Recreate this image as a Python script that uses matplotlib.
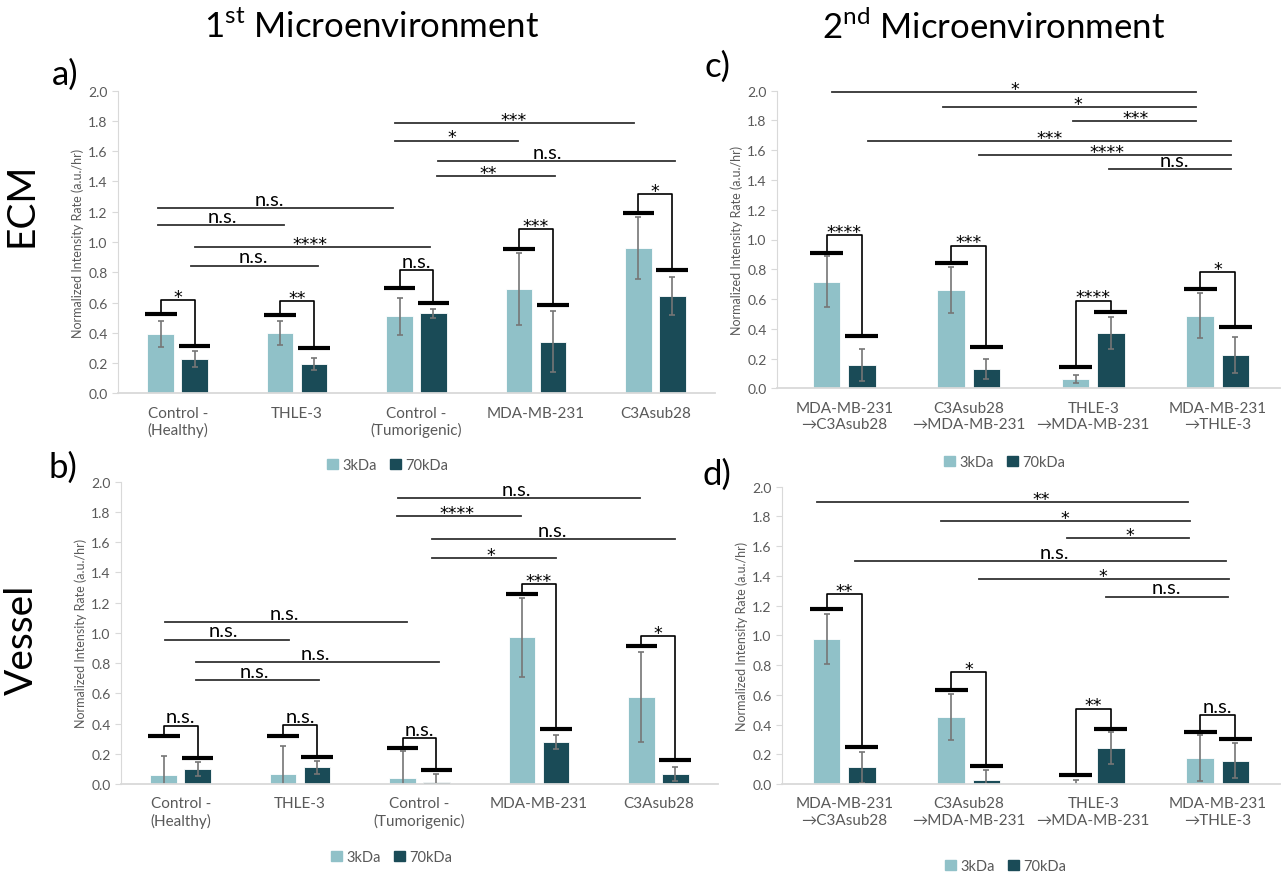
import numpy as np
import matplotlib
matplotlib.use('Agg')
import matplotlib.pyplot as plt
from matplotlib.patches import Patch

plt.rcParams['font.family'] = ['Lato', 'DejaVu Sans']
plt.rcParams['mathtext.fontset'] = 'custom'
plt.rcParams['mathtext.rm'] = 'Lato'

# ---- data ----
cats1 = ['Control -\n(Healthy)', 'THLE-3', 'Control -\n(Tumorigenic)', 'MDA-MB-231', 'C3Asub28']
cats2 = ['MDA-MB-231\n\u2192C3Asub28', 'C3Asub28\n\u2192MDA-MB-231',
         'THLE-3\n\u2192MDA-MB-231', 'MDA-MB-231\n\u2192THLE-3']

# a) ECM, 1st microenvironment
ecm1_3k = [0.39, 0.40, 0.51, 0.69, 0.96]
ecm1_3k_err = [0.086, 0.08, 0.122, 0.24, 0.207]
ecm1_70k = [0.225, 0.194, 0.529, 0.341, 0.645]
ecm1_70k_err = [0.052, 0.04, 0.03, 0.2, 0.125]
ecm1_cap3 = [0.522, 0.518, 0.698, 0.956, 1.19]
ecm1_cap70 = [0.31, 0.302, 0.599, 0.581, 0.817]
ecm1_top = [0.617, 0.612, 0.815, 1.084, 1.319]
ecm1_sig = ['*', '**', 'n.s.', '***', '*']
ecm1_comp = [(-0.165, 1.806, 1.222, 'n.s.', 0.77),
             (-0.165, 0.891, 1.112, 'n.s.', 0.37),
             (0.146, 2.114, 0.965, '****', 1.11),
             (0.114, 1.173, 0.844, 'n.s.', 0.63),
             (1.819, 3.822, 1.784, '***', 2.81),
             (1.819, 2.849, 1.670, '*', 2.30),
             (2.178, 4.165, 1.535, 'n.s.', 3.10),
             (2.169, 3.157, 1.434, '**', 2.60)]

# b) Vessel, 1st microenvironment
ves1_3k = [0.062, 0.066, 0.037, 0.970, 0.573]
ves1_3k_err = [0.125, 0.188, 0.18, 0.263, 0.298]
ves1_70k = [0.101, 0.11, 0.013, 0.278, 0.066]
ves1_70k_err = [0.045, 0.045, 0.05, 0.044, 0.047]
ves1_cap3 = [0.318, 0.32, 0.238, 1.255, 0.913]
ves1_cap70 = [0.172, 0.176, 0.09, 0.366, 0.159]
ves1_top = [0.386, 0.388, 0.302, 1.323, 0.981]
ves1_sig = ['n.s.', 'n.s.', 'n.s.', '***', '*']
ves1_comp = [(-0.132, 1.899, 1.072, 'n.s.', 0.87),
             (-0.132, 0.905, 0.955, 'n.s.', 0.36),
             (0.128, 2.162, 0.807, 'n.s.', 1.13),
             (0.125, 1.161, 0.686, 'n.s.', 0.62),
             (1.816, 3.847, 1.89, 'n.s.', 2.81),
             (1.813, 2.846, 1.771, '****', 2.31),
             (2.101, 4.14, 1.619, 'n.s.', 3.11),
             (2.101, 3.141, 1.497, '*', 2.60)]

# c) ECM, 2nd microenvironment
ecm2_3k = [0.717, 0.663, 0.063, 0.488]
ecm2_3k_err = [0.17, 0.155, 0.025, 0.15]
ecm2_70k = [0.159, 0.132, 0.37, 0.222]
ecm2_70k_err = [0.107, 0.067, 0.107, 0.12]
ecm2_cap3 = [0.912, 0.842, 0.146, 0.665]
ecm2_cap70 = [0.352, 0.278, 0.515, 0.41]
ecm2_top = [1.032, 0.959, 0.589, 0.779]
ecm2_sig = ['****', '***', '****', '*']
ecm2_comp = [(-0.096, 2.823, 1.989, '*', 1.37),
             (0.796, 2.823, 1.89, '*', 1.88),
             (1.84, 2.823, 1.798, '***', 2.34),
             (0.189, 3.108, 1.662, '***', 1.65),
             (1.084, 3.108, 1.566, '****', 2.11),
             (2.126, 3.108, 1.474, 'n.s.', 2.65)]

# d) Vessel, 2nd microenvironment
ves2_3k = [0.973, 0.453, 0.005, 0.173]
ves2_3k_err = [0.168, 0.155, 0.025, 0.155]
ves2_70k = [0.112, 0.03, 0.24, 0.155]
ves2_70k_err = [0.103, 0.067, 0.107, 0.118]
ves2_cap3 = [1.175, 0.632, 0.058, 0.348]
ves2_cap70 = [0.247, 0.119, 0.372, 0.303]
ves2_top = [1.278, 0.751, 0.507, 0.462]
ves2_sig = ['**', '*', '**', 'n.s.']
ves2_comp = [(-0.22, 2.76, 1.895, '**', 1.58),
             (0.78, 2.78, 1.769, '*', 1.77),
             (1.79, 2.77, 1.655, '*', 2.29),
             (0.084, 3.07, 1.498, 'n.s.', 1.69),
             (1.084, 3.087, 1.377, '*', 2.08),
             (2.1, 3.08, 1.26, 'n.s.', 2.59)]

c3k = '#90c1c8'
c70k = '#1a4b57'
grey = '#595959'
W, H = 1286., 878.


def sig_text(ax, x, y, lab):
    # asterisks drawn in DejaVu (bigger glyph) sitting low on the line
    if lab.startswith('*'):
        ax.text(x, y - 0.012, lab, ha='center', va='baseline', fontsize=12.5,
                family='DejaVu Sans', clip_on=False)
    else:
        ax.text(x, y + 0.003, lab, ha='center', va='bottom', fontsize=14.5,
                clip_on=False)


def draw_panel(ax, cats, v3, e3, v70, e70, cap3, cap70, top, sig, comp, xlim):
    x = np.arange(len(cats))
    off, bw, cw = 0.142, 0.222, 0.265
    ekw = dict(ecolor='#767676', elinewidth=1.2, capsize=2.5, capthick=1.2)
    ax.bar(x - off, v3, bw, yerr=e3, color=c3k, edgecolor='white', lw=0.6,
           error_kw=ekw, label='3kDa')
    ax.bar(x + off, v70, bw, yerr=e70, color=c70k, edgecolor='white', lw=0.6,
           error_kw=ekw, label='70kDa')
    # pairwise 3kDa vs 70kDa brackets
    for i in range(len(cats)):
        xa, xb = x[i] - off, x[i] + off
        ax.plot([xa - cw/2, xa + cw/2], [cap3[i]]*2, c='k', lw=3, solid_capstyle='butt')
        ax.plot([xb - cw/2, xb + cw/2], [cap70[i]]*2, c='k', lw=3, solid_capstyle='butt')
        ax.plot([xa, xa, xb, xb], [cap3[i], top[i], top[i], cap70[i]], c='k', lw=1.2)
        sig_text(ax, (xa + xb)/2, top[i], sig[i])
    # comparisons between groups
    for x0, x1, y, lab, xl in comp:
        ax.plot([x0, x1], [y, y], c='#333333', lw=1.3, clip_on=False)
        sig_text(ax, xl, y, lab)
    ax.set_xlim(*xlim)
    ax.set_ylim(0, 2.0)
    ax.set_yticks(np.arange(0, 2.01, 0.2))
    ax.set_yticklabels(['%.1f' % t for t in np.arange(0, 2.01, 0.2)])
    ax.set_xticks(x)
    ax.set_xticklabels(cats)
    for s in ['top', 'right']:
        ax.spines[s].set_visible(False)
    ax.spines['left'].set_color('#d9d9d9')
    ax.spines['bottom'].set_color('#d9d9d9')
    ax.spines['bottom'].set_linewidth(1.3)
    ax.tick_params(axis='y', direction='out', length=4, color='#d9d9d9',
                   labelcolor=grey, labelsize=10)
    ax.tick_params(axis='x', length=0, pad=9, labelcolor=grey, labelsize=11)
    ax.set_ylabel('Normalized Intensity Rate (a.u./hr)', fontsize=9, color=grey,
                  labelpad=3)


def add_legend(ax, fig, px, py):
    handles = [Patch(color=c3k, label='3kDa'), Patch(color=c70k, label='70kDa')]
    ax.legend(handles=handles, loc='center', bbox_to_anchor=(px/W, 1 - py/H),
              bbox_transform=fig.transFigure, ncol=2, frameon=False,
              handlelength=0.75, handleheight=0.75, handletextpad=0.3,
              columnspacing=0.9, fontsize=10.5, labelcolor=grey)


fig = plt.figure(figsize=(12.86, 8.78), dpi=100)


def axes_px(l, r, t, b):
    return fig.add_axes([l/W, 1 - b/H, (r - l)/W, (b - t)/H])


ax_a = axes_px(118, 715, 91.7, 394.3)
ax_b = axes_px(121, 718, 482.7, 785)
ax_c = axes_px(777, 1280, 91.7, 389.3)
ax_d = axes_px(782, 1280, 487.7, 785)

draw_panel(ax_a, cats1, ecm1_3k, ecm1_3k_err, ecm1_70k, ecm1_70k_err,
           ecm1_cap3, ecm1_cap70, ecm1_top, ecm1_sig, ecm1_comp, (-0.5, 4.5))
draw_panel(ax_b, cats1, ves1_3k, ves1_3k_err, ves1_70k, ves1_70k_err,
           ves1_cap3, ves1_cap70, ves1_top, ves1_sig, ves1_comp, (-0.5, 4.5))
draw_panel(ax_c, cats2, ecm2_3k, ecm2_3k_err, ecm2_70k, ecm2_70k_err,
           ecm2_cap3, ecm2_cap70, ecm2_top, ecm2_sig, ecm2_comp, (-0.54, 3.5))
draw_panel(ax_d, cats2, ves2_3k, ves2_3k_err, ves2_70k, ves2_70k_err,
           ves2_cap3, ves2_cap70, ves2_top, ves2_sig, ves2_comp, (-0.5, 3.5))

add_legend(ax_a, fig, 388, 466)
add_legend(ax_b, fig, 392, 858)
add_legend(ax_c, fig, 1005, 463)
add_legend(ax_d, fig, 1006, 867)

fig.text(372/W, 1 - 27/H, '1$^{\\mathrm{st}}$ Microenvironment', ha='center',
         va='center', fontsize=25)
fig.text(994/W, 1 - 27/H, '2$^{\\mathrm{nd}}$ Microenvironment', ha='center',
         va='center', fontsize=25)
fig.text(22/W, 1 - 205/H, 'ECM', rotation=90, ha='center', va='center', fontsize=28)
fig.text(22/W, 1 - 640/H, 'Vessel', rotation=90, ha='center', va='center', fontsize=28)
fig.text(65/W, 1 - 75/H, 'a)', ha='center', va='center', fontsize=25)
fig.text(63/W, 1 - 468/H, 'b)', ha='center', va='center', fontsize=25)
fig.text(717/W, 1 - 67/H, 'c)', ha='center', va='center', fontsize=25)
fig.text(717/W, 1 - 475/H, 'd)', ha='center', va='center', fontsize=25)

fig.savefig('out.png', dpi=100)
